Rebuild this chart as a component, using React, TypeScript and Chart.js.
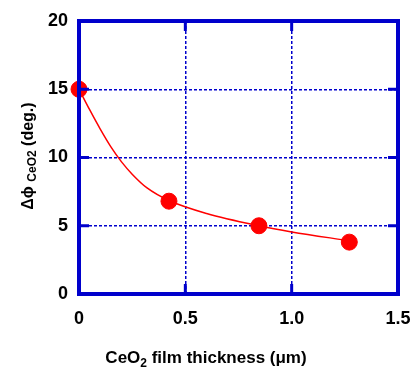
import React, { useEffect, useRef } from "react";
import { Chart, registerables } from "chart.js";

Chart.register(...registerables);

const thicknessUm = [0, 0.423, 0.846, 1.271];
const deltaPhi = [15, 6.8, 5.0, 3.8];

const curveX = [0, 0.05, 0.1, 0.15, 0.2, 0.25, 0.32, 0.423, 0.6, 0.846, 1.0, 1.271];
const curveY = [15, 13.5, 12.08, 10.78, 9.68, 8.78, 7.77, 6.85, 5.9, 5.0, 4.55, 3.9];

const xTickLabels: Record<string, string> = { "0": "0", "0.5": "0.5", "1": "1.0", "1.5": "1.5" };
const yTicks = [0, 5, 10, 15, 20];
const xTicks = [0, 0.5, 1.0, 1.5];

const BLUE = "#0000cc";
const FONT = "'Liberation Sans', Arial, sans-serif";

const framePlugin = {
  id: "frame",
  afterDatasetsDraw(chart: any) {
    const { ctx, chartArea: a, scales } = chart;
    ctx.save();
    ctx.strokeStyle = BLUE;
    ctx.lineWidth = 4;
    ctx.strokeRect(a.left, a.top, a.right - a.left, a.bottom - a.top);
    ctx.lineWidth = 3;
    ctx.beginPath();
    const L = 10;
    xTicks.forEach((v) => {
      const px = scales.x.getPixelForValue(v);
      ctx.moveTo(px, a.bottom);
      ctx.lineTo(px, a.bottom - L);
      ctx.moveTo(px, a.top);
      ctx.lineTo(px, a.top + L);
    });
    yTicks.forEach((v) => {
      const py = scales.y.getPixelForValue(v);
      ctx.moveTo(a.left, py);
      ctx.lineTo(a.left + L, py);
      ctx.moveTo(a.right, py);
      ctx.lineTo(a.right - L, py);
    });
    ctx.stroke();
    ctx.restore();
  },
  afterDraw(chart: any) {
    const { ctx } = chart;
    ctx.save();
    ctx.fillStyle = "#000";
    ctx.textBaseline = "alphabetic";
    const big = `bold 17px ${FONT}`;
    const small = `bold 12px ${FONT}`;
    const p1 = "CeO";
    const p2 = "2";
    const p3 = " film thickness (\u03bcm)";
    ctx.font = big;
    const w1 = ctx.measureText(p1).width;
    const w3 = ctx.measureText(p3).width;
    ctx.font = small;
    const w2 = ctx.measureText(p2).width;
    const total = w1 + w2 + w3;
    let x = 206 - total / 2;
    const y = 363;
    ctx.textAlign = "left";
    ctx.font = big;
    ctx.fillText(p1, x, y);
    x += w1;
    ctx.font = small;
    ctx.fillText(p2, x, y + 4);
    x += w2;
    ctx.font = big;
    ctx.fillText(p3, x, y);

    ctx.translate(33, 156);
    ctx.rotate(-Math.PI / 2);
    const yBig = `bold 16px ${FONT}`;
    const q1 = "\u0394\u03d5 ";
    const q2 = "CeO2";
    const q3 = " (deg.)";
    ctx.font = yBig;
    const v1 = ctx.measureText(q1).width;
    const v3 = ctx.measureText(q3).width;
    ctx.font = `bold 12px ${FONT}`;
    const v2 = ctx.measureText(q2).width;
    let t = -(v1 + v2 + v3) / 2;
    ctx.font = yBig;
    ctx.fillText(q1, t, 0);
    t += v1;
    ctx.font = `bold 12px ${FONT}`;
    ctx.fillText(q2, t, 3);
    t += v2;
    ctx.font = yBig;
    ctx.fillText(q3, t, 0);
    ctx.restore();
  },
};

export default function App() {
  const ref = useRef<HTMLCanvasElement>(null);
  useEffect(() => {
    if (!ref.current) return;
    const chart = new Chart(ref.current, {
      type: "scatter",
      data: {
        datasets: [
          {
            type: "line",
            data: curveX.map((x, i) => ({ x, y: curveY[i] })),
            borderColor: "#ff0000",
            borderWidth: 1.5,
            pointRadius: 0,
            cubicInterpolationMode: "monotone",
            fill: false,
            order: 2,
          } as any,
          {
            data: thicknessUm.map((x, i) => ({ x, y: deltaPhi[i] })),
            backgroundColor: "#ff0000",
            borderColor: "#ff0000",
            pointRadius: 8,
            pointHoverRadius: 8,
            order: 1,
          },
        ],
      },
      options: {
        responsive: false,
        animation: false,
        clip: false as any,
        layout: { padding: { top: 21, right: 16, left: 0, bottom: 0 } },
        plugins: { legend: { display: false }, tooltip: { enabled: false } },
        scales: {
          x: {
            type: "linear",
            min: 0,
            max: 1.5,
            afterFit: (s: any) => {
              s.height = 77;
              s.paddingLeft = 0;
              s.paddingRight = 0;
            },
            afterBuildTicks: (s: any) => {
              s.ticks = xTicks.map((v) => ({ value: v }));
            },
            ticks: {
              color: "#000",
              font: { family: FONT, size: 18, weight: "bold" },
              padding: 14,
              maxRotation: 0,
              callback: (v: any) => xTickLabels[String(v)] ?? String(v),
            },
            grid: {
              color: (c: any) => (c.tick && (c.tick.value === 0 || c.tick.value === 1.5) ? "rgba(0,0,0,0)" : BLUE),
              lineWidth: 1.5,
              drawTicks: false,
            },
            border: { display: false, dash: [3, 2] },
          },
          y: {
            type: "linear",
            min: 0,
            max: 20,
            afterFit: (s: any) => {
              s.width = 79;
              s.paddingTop = 0;
              s.paddingBottom = 0;
            },
            afterBuildTicks: (s: any) => {
              s.ticks = yTicks.map((v) => ({ value: v }));
            },
            ticks: {
              color: "#000",
              font: { family: FONT, size: 18, weight: "bold" },
              padding: 11,
            },
            grid: {
              color: (c: any) => (c.tick && (c.tick.value === 0 || c.tick.value === 20) ? "rgba(0,0,0,0)" : BLUE),
              lineWidth: 1.5,
              drawTicks: false,
            },
            border: { display: false, dash: [3, 2] },
          },
        },
      },
      plugins: [framePlugin],
    });
    return () => chart.destroy();
  }, []);
  return (
    <div style={{ position: "fixed", left: 0, top: 0, width: 414, height: 371, background: "#fff" }}>
      <canvas ref={ref} width={414} height={371} />
    </div>
  );
}
